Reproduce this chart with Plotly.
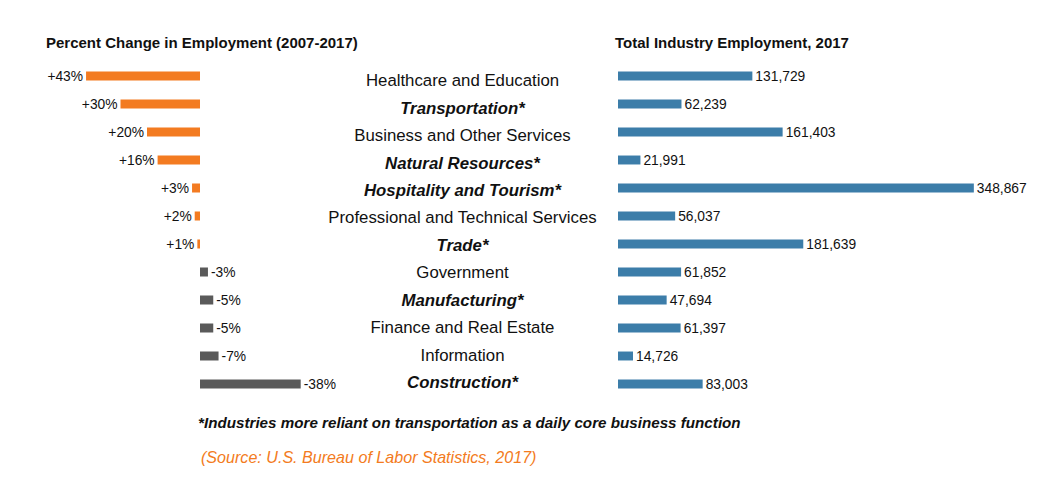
import plotly.graph_objects as go

categories = [
    "Healthcare and Education", "Transportation*", "Business and Other Services",
    "Natural Resources*", "Hospitality and Tourism*", "Professional and Technical Services",
    "Trade*", "Government", "Manufacturing*", "Finance and Real Estate",
    "Information", "Construction*",
]
pct_change = [43, 30, 20, 16, 3, 2, 1, -3, -5, -5, -7, -38]
employment = [131729, 62239, 161403, 21991, 348867, 56037, 181639, 61852, 47694, 61397, 14726, 83003]

title_left = "Percent Change in Employment (2007-2017)"
title_right = "Total Industry Employment, 2017"
footnote = "*Industries more reliant on transportation as a daily core business function"
source = "(Source: U.S. Bureau of Labor Statistics, 2017)"

ORANGE = "#F37B21"
GRAY = "#5A5A5A"
BLUE = "#3C7DA9"
ARIAL = "Liberation Sans, Arial, sans-serif"

# the page body has an 8px margin; the figure is sized to fit the window
OFF = 8
W, H = 1045 - OFF, 495 - OFF


def px(x):
    return (x - OFF) / W


def py(y):
    return 1 - (y - OFF) / H


fig = go.Figure()

fig.add_trace(go.Bar(
    y=categories, x=pct_change, orientation="h",
    marker=dict(color=[ORANGE if v > 0 else GRAY for v in pct_change], line=dict(width=0)),
    text=[f"{v:+d}%" for v in pct_change], textposition="outside",
    textfont=dict(family=ARIAL, size=13.8, color="#111111"),
    constraintext="none", cliponaxis=False,
    xaxis="x", yaxis="y", hoverinfo="skip",
))

labels = [f"<b><i>{c}</i></b>" if c.endswith("*") else c for c in categories]
fig.add_trace(go.Scatter(
    y=categories, x=[0.5] * len(categories), mode="text", text=labels,
    textposition="middle center",
    textfont=dict(family=ARIAL, size=16.8, color="#111111"),
    xaxis="x2", yaxis="y2", hoverinfo="skip", cliponaxis=False,
))

fig.add_trace(go.Bar(
    y=categories, x=employment, orientation="h",
    marker=dict(color=BLUE, line=dict(width=0)),
    text=[f"{v:,}" for v in employment], textposition="outside",
    textfont=dict(family=ARIAL, size=13.8, color="#111111"),
    constraintext="none", cliponaxis=False,
    xaxis="x3", yaxis="y", hoverinfo="skip",
))

n = len(categories)
fig.update_layout(
    width=W, height=H, margin=dict(l=0, r=0, t=0, b=0),
    paper_bgcolor="white", plot_bgcolor="white",
    showlegend=False, bargap=0.68,
    xaxis=dict(domain=[px(67.5), px(306)], range=[50, -40], visible=False, fixedrange=True),
    xaxis2=dict(domain=[px(320), px(605)], range=[0, 1], visible=False, fixedrange=True),
    xaxis3=dict(domain=[px(618), px(1026)], range=[0, 400000], visible=False, fixedrange=True),
    yaxis=dict(domain=[py(398), py(62)], range=[n - 0.5, -0.5], visible=False,
               type="category", fixedrange=True),
    yaxis2=dict(domain=[py(397.7), py(68.3)], range=[n - 0.5, -0.5], visible=False,
                type="category", fixedrange=True, anchor="x2"),
    annotations=[
        dict(text=f"<b>{title_left}</b>", x=px(44), y=py(42), xref="paper", yref="paper",
             xanchor="left", yanchor="middle", showarrow=False,
             font=dict(family=ARIAL, size=15, color="#111111")),
        dict(text=f"<b>{title_right}</b>", x=px(613), y=py(42), xref="paper", yref="paper",
             xanchor="left", yanchor="middle", showarrow=False,
             font=dict(family=ARIAL, size=15, color="#111111")),
        dict(text=f"<b><i>{footnote}</i></b>", x=px(196), y=py(422), xref="paper", yref="paper",
             xanchor="left", yanchor="middle", showarrow=False,
             font=dict(family=ARIAL, size=15.2, color="#111111")),
        dict(text=f"<i>{source}</i>", x=px(199), y=py(457), xref="paper", yref="paper",
             xanchor="left", yanchor="middle", showarrow=False,
             font=dict(family=ARIAL, size=16.1, color=ORANGE)),
    ],
)

fig.write_html("out.html")
